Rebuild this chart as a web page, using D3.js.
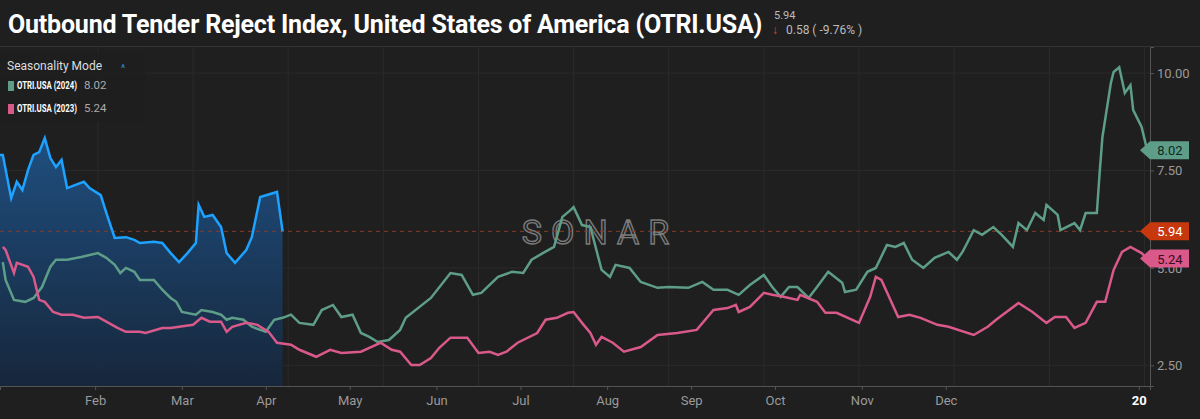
<!DOCTYPE html>
<html lang="en">
<head>
<meta charset="UTF-8">
<title>OTRI.USA seasonality</title>
<script src="https://cdnjs.cloudflare.com/ajax/libs/d3/7.8.5/d3.min.js"></script>
<style>
  body { margin: 0; background: #1f1f1f; font-family: Roboto, "Noto Sans", sans-serif; }
  svg { display: block; }
</style>
</head>
<body>
<div id="chart"></div>
<script>
// day of season (0 = start of axis) and value pairs
const days2025 = [1,4,6,8,10,12,14,16,18,20,22,24,27,30,32,36,38,41,45,48,50,55,58,61,64,67,70,71,73,76,79,81,84,88,90,93,99,101];
const vals2025 = [7.90,6.79,7.21,7.00,7.51,7.90,7.97,8.33,7.82,7.59,7.77,7.05,7.13,7.21,7.05,6.87,6.41,5.77,5.79,5.72,5.64,5.67,5.64,5.38,5.15,5.38,5.64,6.62,6.31,6.36,6.05,5.38,5.13,5.46,5.79,6.82,6.95,5.94];

const days2024 = [1,2,5,9,12,15,18,20,24,29,35,38,41,43,45,48,50,55,58,61,63,65,70,72,76,79,81,83,87,90,95,98,101,104,107,112,115,119,122,126,129,132,135,139,143,145,154,161,165,169,172,178,183,187,190,194,198,201,204,205,208,211,215,218,220,225,229,235,239,246,251,255,260,264,268,273,276,279,282,285,289,292,296,301,302,306,310,313,317,320,323,326,330,334,339,342,344,348,351,355,358,362,364,367,370,373,374,378,379,384,386,388,392,393,394,397,398,400,402,404,405,408,410];
const vals2024 = [5.15,4.69,4.18,4.13,4.23,4.51,5.03,5.21,5.21,5.28,5.38,5.26,5.08,4.87,5.00,4.90,4.69,4.69,4.44,4.23,4.13,3.87,3.80,3.92,3.87,3.80,3.67,3.72,3.67,3.49,3.36,3.67,3.72,3.80,3.59,3.54,3.92,4.05,3.74,3.80,3.33,3.23,3.10,3.15,3.41,3.72,4.23,4.87,4.82,4.31,4.36,4.77,4.90,4.87,5.21,5.38,5.54,6.31,6.49,6.56,6.10,6.05,4.95,4.77,5.08,5.00,4.64,4.49,4.51,4.49,4.64,4.44,4.44,4.31,4.56,4.82,4.51,4.26,4.51,4.51,4.23,4.51,4.90,4.62,4.38,4.44,4.90,5.00,5.59,5.54,5.64,5.21,5.00,5.26,5.41,5.21,5.41,5.97,5.85,6.05,5.85,5.54,6.15,5.97,6.41,6.23,6.62,6.36,5.97,6.15,5.97,6.41,6.41,7.44,8.36,9.74,10.03,10.15,9.49,9.69,9.05,8.62,8.02];

const days2023 = [1,2,5,6,10,12,14,16,19,22,26,30,35,38,42,45,50,52,58,61,64,69,72,75,79,81,83,88,92,96,99,104,107,113,118,122,129,132,136,140,143,147,150,154,157,161,167,171,175,178,181,185,192,195,199,203,205,208,211,213,215,219,223,229,235,242,249,255,260,263,264,268,273,276,280,285,286,292,295,299,307,311,313,315,321,325,329,335,339,348,353,356,364,369,374,377,381,384,388,392,395,398,401,404,408,410];
const vals2023 = [5.54,5.46,4.87,5.13,5.03,4.77,4.18,4.13,3.87,3.80,3.80,3.72,3.74,3.62,3.46,3.36,3.36,3.33,3.46,3.46,3.49,3.54,3.72,3.62,3.62,3.36,3.49,3.59,3.54,3.36,3.08,3.03,2.90,2.72,2.90,2.82,2.85,2.95,3.08,2.90,2.85,2.51,2.51,2.69,2.95,3.21,3.21,2.82,2.85,2.77,2.85,3.08,3.33,3.67,3.72,3.85,3.87,3.59,3.33,3.03,3.23,3.08,2.85,2.97,3.28,3.33,3.41,3.92,3.97,4.05,3.87,4.00,4.36,4.31,4.26,4.18,4.31,4.13,3.85,3.85,3.59,4.26,4.77,4.69,3.74,3.80,3.72,3.54,3.49,3.28,3.49,3.67,4.10,3.87,3.59,3.74,3.74,3.46,3.59,4.13,4.13,4.95,5.41,5.54,5.38,5.24];

const monthTickDays = [34,65,95,125,156,186,217,247,277,308,338,407];
const monthTickLabels = ["Feb","Mar","Apr","May","Jun","Jul","Aug","Sep","Oct","Nov","Dec","20"];
const gridDays = [35,69,103,137,171,205,239,273,307,341,375,409];
const yTicks = [2.5,5,7.5,10];
const current = 5.94, last2024 = 8.02, last2023 = 5.24;

const W = 1200, H = 419;
const plotLeft = 0, plotRight = 1150, plotTop = 47, plotBottom = 386;

const svg = d3.select("#chart").append("svg").attr("width", W).attr("height", H);
svg.append("rect").attr("width", W).attr("height", H).attr("fill", "#1f1f1f");

const x = d3.scaleLinear().domain([0, 411]).range([plotLeft, plotRight]);
const y = d3.scaleLinear().domain([1.97, 10.67]).range([plotBottom, plotTop]);

// header
svg.append("text").attr("x", 8).attr("y", 33).attr("fill", "#fff")
  .attr("font-size", 25).attr("font-weight", "bold").attr("letter-spacing", -0.2)
  .text("Outbound Tender Reject Index, United States of America (OTRI.USA)");
svg.append("text").attr("x", 774).attr("y", 19).attr("fill", "#bbb").attr("font-size", 11).text("5.94");
svg.append("text").attr("x", 772).attr("y", 34).attr("fill", "#e0463a").attr("font-size", 12).text("↓");
svg.append("text").attr("x", 786).attr("y", 34).attr("fill", "#bbb").attr("font-size", 12).text("0.58 ( -9.76% )");
svg.append("line").attr("x1", 0).attr("x2", W).attr("y1", 46.5).attr("y2", 46.5).attr("stroke", "#333");

// grid
const g = svg.append("g");
g.selectAll(".vg").data(gridDays).join("line")
  .attr("x1", d => x(d)).attr("x2", d => x(d)).attr("y1", plotTop).attr("y2", plotBottom)
  .attr("stroke", "#2b2b2b");
g.selectAll(".hg").data(yTicks).join("line")
  .attr("x1", plotLeft).attr("x2", plotRight).attr("y1", d => y(d)).attr("y2", d => y(d))
  .attr("stroke", "#2b2b2b");

// watermark
svg.append("text").attr("x", 600).attr("y", 244).attr("text-anchor", "middle")
  .attr("font-size", 34).attr("letter-spacing", 9).attr("fill", "none")
  .attr("stroke", "#7a7a7a").attr("stroke-width", 1.4).text("SONAR");

// 2025 area
const defs = svg.append("defs");
const grad = defs.append("linearGradient").attr("id", "blueFill").attr("x1", 0).attr("x2", 0).attr("y1", 0).attr("y2", 1);
grad.append("stop").attr("offset", "0%").attr("stop-color", "#1f5184");
grad.append("stop").attr("offset", "100%").attr("stop-color", "#16273d");

const s2025 = [[0, vals2025[0]], ...days2025.map((d, i) => [d, vals2025[i]])];
const s2024 = days2024.map((d, i) => [d, vals2024[i]]);
const s2023 = days2023.map((d, i) => [d, vals2023[i]]);
const area = d3.area().x(d => x(d[0])).y0(plotBottom).y1(d => y(d[1]));
const line = d3.line().x(d => x(d[0])).y(d => y(d[1]));

svg.append("path").datum(s2025).attr("d", area).attr("fill", "url(#blueFill)").attr("opacity", 0.95);

// current level
svg.append("line").attr("x1", plotLeft).attr("x2", plotRight).attr("y1", y(current)).attr("y2", y(current))
  .attr("stroke", "#8a3b26").attr("stroke-dasharray", "4,4");

svg.append("path").datum(s2024).attr("d", line).attr("fill", "none").attr("stroke", "#5e9d88").attr("stroke-width", 2.5);
svg.append("path").datum(s2023).attr("d", line).attr("fill", "none").attr("stroke", "#d9598a").attr("stroke-width", 2.5);
svg.append("path").datum(s2025).attr("d", line).attr("fill", "none").attr("stroke", "#1ea2ff").attr("stroke-width", 2.5);

// axes
const yAxis = svg.append("g").attr("transform", `translate(${plotRight},0)`)
  .call(d3.axisRight(y).tickValues(yTicks).tickFormat(d3.format(".2f")).tickSize(4));
yAxis.select(".domain").attr("stroke", "#555");
yAxis.selectAll("line").attr("stroke", "#555");
yAxis.selectAll("text").attr("fill", "#9a9a9a").attr("font-size", 13).attr("font-family", "Roboto");

const xAxis = svg.append("g").attr("transform", `translate(0,${plotBottom})`)
  .call(d3.axisBottom(x).tickValues(monthTickDays).tickFormat((d, i) => monthTickLabels[i]).tickSize(4));
xAxis.select(".domain").attr("stroke", "#555");
xAxis.selectAll("line").attr("stroke", "#555");
xAxis.selectAll("text").attr("fill", (d, i) => i === 11 ? "#fff" : "#9a9a9a")
  .attr("font-weight", (d, i) => i === 11 ? "bold" : "normal")
  .attr("font-size", 13).attr("font-family", "Roboto").attr("dy", "0.9em");

// value tags (drawn over the axis labels, as in the original)
function tag(v, fill, txtColor) {
  const ty = y(v);
  svg.append("path")
    .attr("d", `M${plotRight - 10},${ty} L${plotRight},${ty - 9} L${plotRight + 39},${ty - 9} L${plotRight + 39},${ty + 9} L${plotRight},${ty + 9} Z`)
    .attr("fill", fill);
  svg.append("text").attr("x", plotRight + 20).attr("y", ty + 5).attr("text-anchor", "middle")
    .attr("fill", txtColor).attr("font-size", 13).text(v.toFixed(2));
}
tag(last2024, "#5e9d88", "#0e2a22");
tag(current, "#c8380e", "#fff");
tag(last2023, "#d9598a", "#3a0a1e");

// legend
const lg = svg.append("g");
lg.append("rect").attr("x", 0).attr("y", 52).attr("width", 145).attr("height", 70).attr("fill", "#1f1f1f").attr("opacity", 0.85);
lg.append("text").attr("x", 7).attr("y", 70).attr("fill", "#ddd").attr("font-size", 12).text("Seasonality Mode");
lg.append("text").attr("x", 121).attr("y", 72).attr("fill", "#2e8fe0").attr("font-size", 10).text("^");
const legendNames = ["OTRI.USA (2024)", "OTRI.USA (2023)"];
const legendVals = [last2024, last2023];
const legendColors = ["#5e9d88", "#d9598a"];
legendNames.forEach((n, i) => {
  const ly = 89 + i * 23;
  lg.append("rect").attr("x", 8).attr("y", ly - 8).attr("width", 6).attr("height", 10).attr("fill", legendColors[i]);
  lg.append("text").attr("x", 17).attr("y", ly).attr("fill", "#fff").attr("font-size", 11.5)
    .attr("textLength", 60).attr("lengthAdjust", "spacingAndGlyphs")
    .attr("font-weight", "bold").text(n);
  lg.append("text").attr("x", 84).attr("y", ly).attr("fill", "#aaa").attr("font-size", 11.5).text(legendVals[i].toFixed(2));
});
</script>
</body>
</html>
